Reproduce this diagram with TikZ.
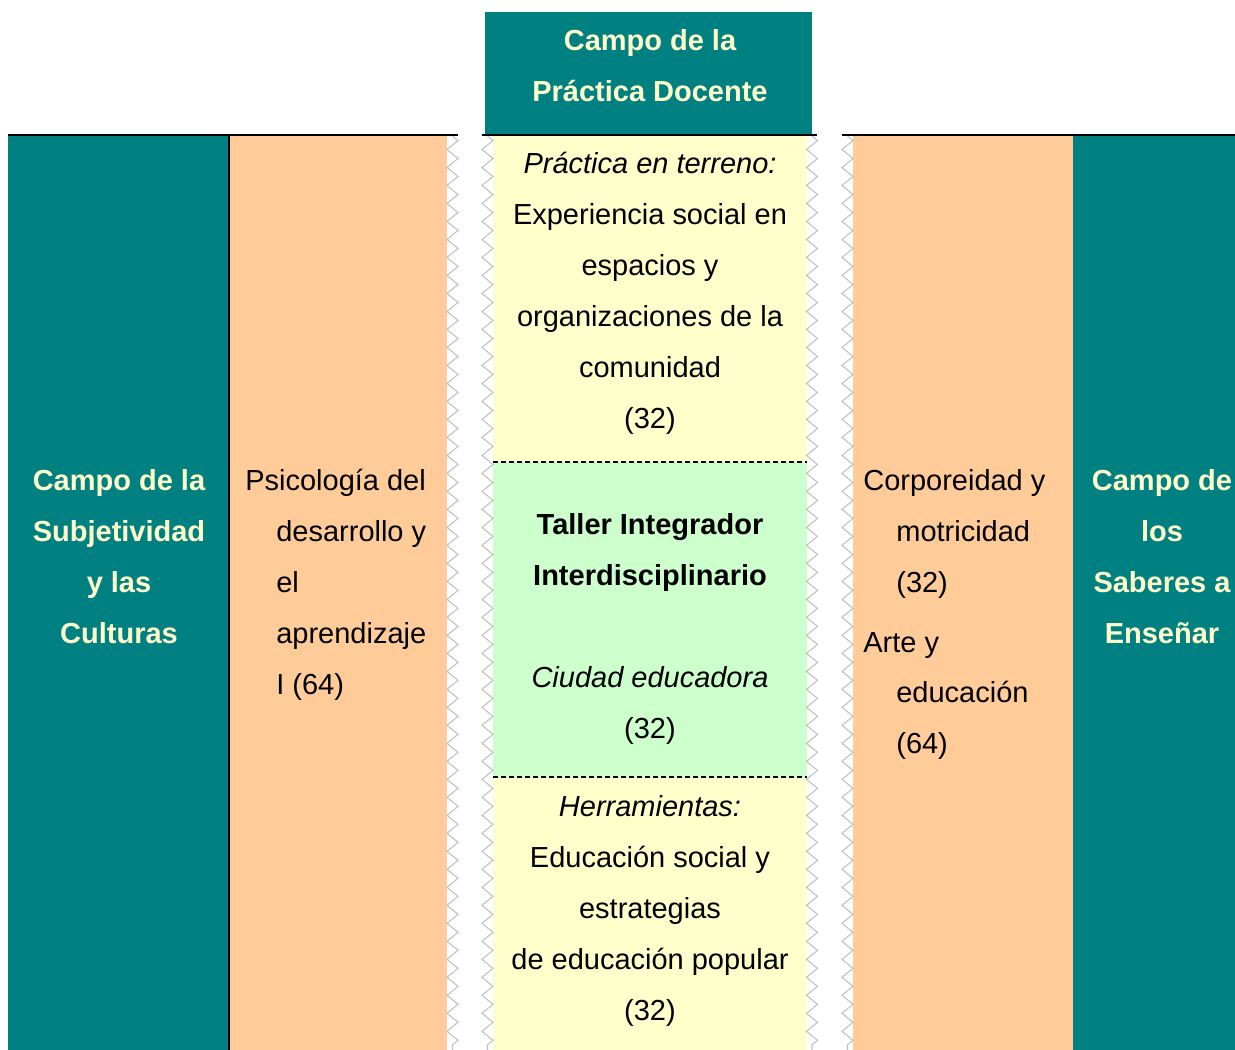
\documentclass[tikz,border=0pt]{standalone}
\usepackage{fontspec}
\setmainfont{Liberation Sans}
\usepackage{xcolor}
\usetikzlibrary{decorations.pathmorphing}
\definecolor{campo}{HTML}{008080}
\definecolor{crema}{HTML}{FFFFCC}
\definecolor{durazno}{HTML}{FFCC99}
\definecolor{verdeclaro}{HTML}{CCFFCC}
\definecolor{gris}{HTML}{C0C0C0}
\tikzset{ campo_txt/.style = {text=crema, font=\fontsize{16.5}{29}\selectfont\bfseries, align=center, inner sep=0pt} }
\tikzset{ celda_txt/.style = {font=\fontsize{16.5}{29}\selectfont, align=center, inner sep=0pt} }
\tikzset{ guarda/.style = {draw=gris, line width=0.6pt, decorate, decoration={zigzag, segment length=0.36cm, amplitude=0.11cm}} }
\tikzset{ borde/.style = {line width=1.2pt} }

\begin{document}
\begin{tikzpicture}[x=0.02cm, y=-0.02cm]
            \useasboundingbox (0,0) rectangle (1235,1050);
            % columnas
            \fill[campo] (485,12) rectangle (812,135);
            \fill[campo] (8,136) rectangle (229,1050);
            \fill[durazno] (230,136) rectangle (447,1050);
            \fill[crema] (493,136) rectangle (807,462);
            \fill[verdeclaro] (493,462) rectangle (807,777);
            \fill[crema] (493,777) rectangle (807,1050);
            \fill[durazno] (853,136) rectangle (1073,1050);
            \fill[campo] (1073,136) rectangle (1235,1050);
            % guardas
            \draw[guarda] (452.5,136) -- (452.5,1050);
            \draw[guarda] (487.5,136) -- (487.5,1050);
            \draw[guarda] (812,136) -- (812,1050);
            \draw[guarda] (847.5,136) -- (847.5,1050);
            % bordes
            \draw[borde] (8,135) -- (458,135);
            \draw[borde] (482,135) -- (817,135);
            \draw[borde] (842,135) -- (1235,135);
            \draw[borde] (229,136) -- (229,1050);
            \draw[borde, dash pattern=on 0.1cm off 0.06cm] (493,462) -- (807,462);
            \draw[borde, dash pattern=on 0.1cm off 0.06cm] (493,777) -- (807,777);
            % textos
            \node[campo_txt] (docente) at (650,66) {Campo de la\\Práctica Docente};
            \node[campo_txt] (subjetividad) at (119,557) {Campo de la\\Subjetividad\\y las\\Culturas};
            \node[campo_txt] (saberes) at (1162,557) {Campo de\\los\\Saberes a\\Enseñar};
            \node[celda_txt] (terreno) at (650,293) {\itshape Práctica en terreno:\\Experiencia social en\\espacios y\\organizaciones de la\\comunidad\\(32)};
            \node[celda_txt] (taller) at (650,629) {\bfseries Taller Integrador\\\bfseries Interdisciplinario\\[29pt]\itshape Ciudad educadora\\(32)};
            \node[celda_txt] (herramientas) at (650,911) {\itshape Herramientas:\\Educación social y\\estrategias\\de educación popular\\(32)};
            \node[celda_txt, align=left, anchor=west] (psicologia) at (245,585) {Psicología del\\\hspace*{0.62cm}desarrollo y\\\hspace*{0.62cm}el\\\hspace*{0.62cm}aprendizaje\\\hspace*{0.62cm}I (64)};
            \node[celda_txt, align=left, anchor=west] (corporeidad) at (863,534) {Corporeidad y\\\hspace*{0.66cm}motricidad\\\hspace*{0.66cm}(32)};
            \node[celda_txt, align=left, anchor=west] (arte) at (863,696) {Arte y\\\hspace*{0.66cm}educación\\\hspace*{0.66cm}(64)};
        \end{tikzpicture}
\end{document}
